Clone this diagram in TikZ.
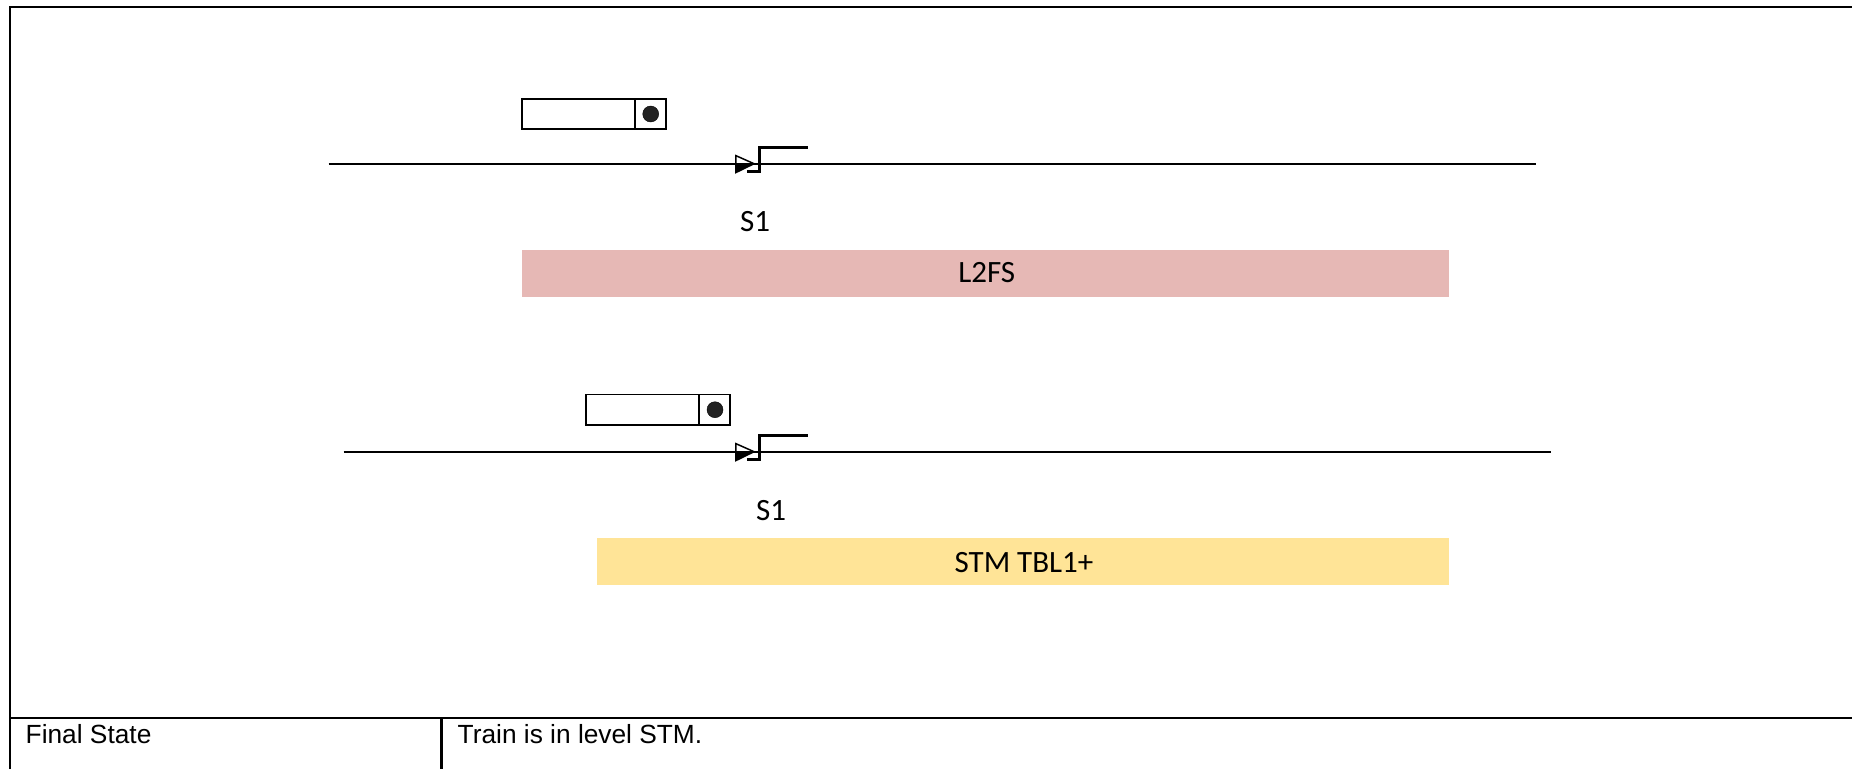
\documentclass[tikz,border=0pt]{standalone}
\usepackage{fontspec}
\setmainfont{Carlito}
\newfontfamily\arialfont{Liberation Sans}
\definecolor{barred}{HTML}{E6B8B5}
\definecolor{baryellow}{HTML}{FFE497}
\definecolor{dotgray}{HTML}{222222}
\tikzset{
  frameline/.style={line width=2.4pt,black},
  trackline/.style={line width=1.9pt,black},
  boxpart/.style={draw=black,fill=white,line width=1.7pt,inner sep=0pt,minimum height=30.5pt},
  traindot/.style={circle,fill=dotgray,draw=black,line width=.4pt,inner sep=0pt,minimum size=16pt},
  statusbar/.style={inner sep=0pt,minimum height=47pt},
  signallabel/.style={inner sep=0pt,font=\fontsize{31}{36}\selectfont},
  tabletext/.style={inner sep=0pt,anchor=base west,font=\arialfont\fontsize{26.3}{30}\selectfont},
  signalarm/.style={line width=2.9pt,black,line join=miter}
}
\begin{document}
\begin{tikzpicture}[x=1pt,y=-1pt]
\useasboundingbox (0,0) rectangle (1852,769);
% table frame
\coordinate (fTL) at (10,6.7);
\coordinate (fTR) at (1852,6.7);
\coordinate (fBL) at (10,769);
\coordinate (rowL) at (10,718);
\coordinate (rowR) at (1852,718);
\coordinate (divT) at (441.5,718);
\coordinate (divB) at (441.5,769);
\draw[frameline] (fBL) -- (fTL) -- (fTR);
\draw[frameline] (rowL) -- (rowR);
\draw[frameline] (divT) -- (divB);
\node[tabletext] (finalstate) at (25.5,743) {Final State};
\node[tabletext] (trainlevel) at (457.5,743) {Train is in level STM.};
% upper scenario
\node[boxpart,minimum width=113.5pt] (t1body) at (578.4,114) {};
\node[boxpart,minimum width=30.7pt] (t1head) at (650.4,114) {};
\node[traindot] (t1dot) at (650.7,114) {};
\coordinate (t1a) at (328.5,163.7);
\coordinate (t1b) at (1536,163.7);
\draw[trackline] (t1a) -- (t1b);
\coordinate (s1tl) at (735.8,155.6);
\coordinate (s1bl) at (735.8,172.6);
\coordinate (s1ml) at (735.8,163.7);
\coordinate (s1tip) at (754,163.7);
\fill[black] (s1ml) -- (s1tip) -- (s1bl) -- cycle;
\draw[line width=1.5pt,line join=miter] (s1tl) -- (s1tip) -- (s1bl) -- cycle;
\coordinate (s1arm0) at (747.3,171.5);
\coordinate (s1arm1) at (759.6,171.5);
\coordinate (s1arm2) at (759.6,147.7);
\coordinate (s1arm3) at (808.3,147.7);
\draw[signalarm] (s1arm0) -- (s1arm1) -- (s1arm2) -- (s1arm3);
\node[signallabel] (s1label) at (755,222) {S1};
\node[statusbar,fill=barred,minimum width=927pt] (l2fs) at (985.5,273.3) {};
\node[signallabel] (l2fstext) at (986.7,272.7) {L2FS};
% lower scenario
\node[boxpart,minimum width=113.5pt] (t2body) at (642.4,409.7) {};
\node[boxpart,minimum width=30.7pt] (t2head) at (714.4,409.7) {};
\node[traindot] (t2dot) at (715,409.7) {};
\coordinate (t2a) at (343.7,451.7);
\coordinate (t2b) at (1551,451.7);
\draw[trackline] (t2a) -- (t2b);
\coordinate (s2tl) at (735.8,443.6);
\coordinate (s2bl) at (735.8,460.6);
\coordinate (s2ml) at (735.8,451.7);
\coordinate (s2tip) at (754,451.7);
\fill[black] (s2ml) -- (s2tip) -- (s2bl) -- cycle;
\draw[line width=1.5pt,line join=miter] (s2tl) -- (s2tip) -- (s2bl) -- cycle;
\coordinate (s2arm0) at (747.3,459.5);
\coordinate (s2arm1) at (759.6,459.5);
\coordinate (s2arm2) at (759.6,435.7);
\coordinate (s2arm3) at (808.3,435.7);
\draw[signalarm] (s2arm0) -- (s2arm1) -- (s2arm2) -- (s2arm3);
\node[signallabel] (s2label) at (771,510.7) {S1};
\node[statusbar,fill=baryellow,minimum width=852.5pt] (tbl) at (1022.75,561.5) {};
\node[signallabel] (tbltext) at (1024,562.7) {STM TBL1+};
\end{tikzpicture}
\end{document}
